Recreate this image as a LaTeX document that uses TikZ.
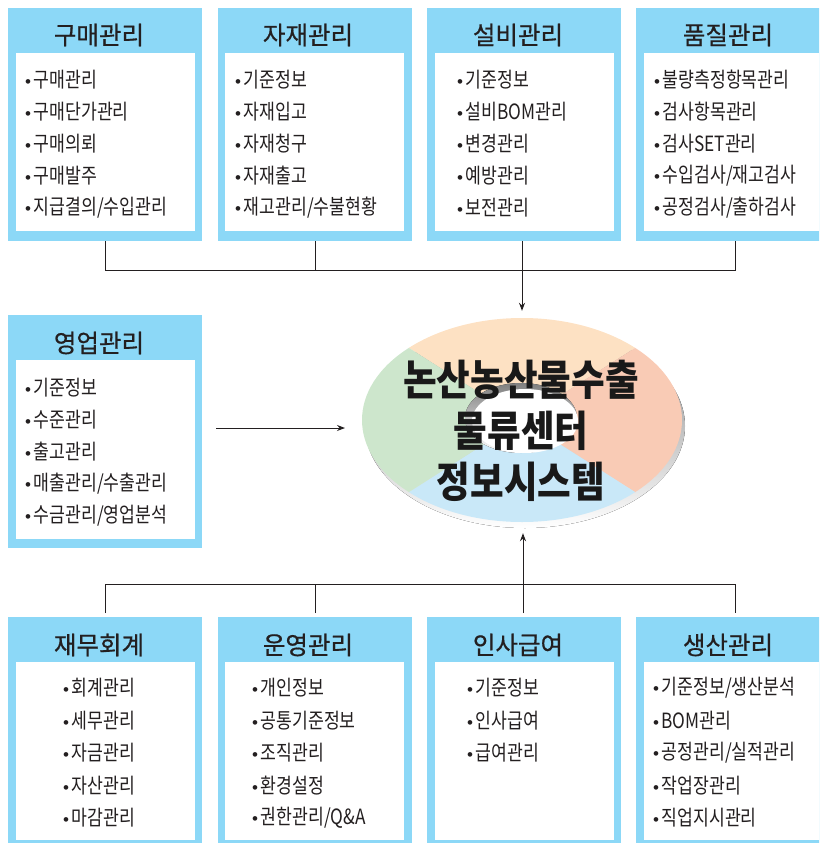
\documentclass[tikz,border=0pt]{standalone}
\usepackage{fontspec}
\setmainfont{Noto Sans CJK KR}
\newfontfamily\itemfont[FakeStretch=0.82]{Noto Sans CJK KR}
\newfontfamily\titlefont[FakeStretch=0.98,FakeBold=0.6]{Noto Sans CJK KR}
\newfontfamily\hubfont[FakeStretch=0.87]{Noto Sans CJK KR}
\newfontfamily\bulletfont{Liberation Sans}
\usetikzlibrary{arrows.meta,shapes.geometric}
\definecolor{boxblue}{HTML}{8CD8F7}
\definecolor{ink}{HTML}{231F20}
\definecolor{peach}{HTML}{FDE1C3}
\definecolor{salmon}{HTML}{F9CBB5}
\definecolor{skyb}{HTML}{C9E8F8}
\definecolor{mint}{HTML}{CDE6CC}
\definecolor{shade}{HTML}{E2E4E7}
\tikzset{
  outerbox/.style={fill=boxblue, draw=none, inner sep=0pt, outer sep=0pt},
  innerbox/.style={fill=white, draw=none, inner sep=0pt, outer sep=0pt},
  ttl/.style={font=\titlefont\fontsize{25}{25}\selectfont, text=ink, inner sep=0pt},
  itm/.style={font=\itemfont\fontsize{21}{21}\selectfont, text=ink, anchor=west, inner sep=0pt},
  hubtext/.style={font=\hubfont\bfseries\fontsize{42}{51}\selectfont, text=black!90, align=center, inner sep=0pt},
  conn/.style={draw=ink, line width=1pt},
  arr/.style={conn, -{Stealth[length=8pt,width=6pt]}}
}
\newcommand\bul{{\bulletfont\fontsize{17}{17}\selectfont •}\hspace{2.5pt}}
\begin{document}
\begin{tikzpicture}[x=1pt,y=-1pt]
\useasboundingbox (0,0) rectangle (819,843);
\clip (0,0) rectangle (819,843);
% ---------- top row boxes
\node[outerbox, minimum width=194pt, minimum height=233pt] (b1) at (105,124.5) {};
\node[innerbox, minimum width=179pt, minimum height=178pt] (b1w) at (105.5,142) {};
\node[outerbox, minimum width=194pt, minimum height=233pt] (b2) at (315,124.5) {};
\node[innerbox, minimum width=179pt, minimum height=178pt] (b2w) at (314.5,142) {};
\node[outerbox, minimum width=194pt, minimum height=233pt] (b3) at (524,124.5) {};
\node[innerbox, minimum width=179pt, minimum height=178pt] (b3w) at (524.5,142) {};
\node[outerbox, minimum width=199pt, minimum height=233pt] (b4) at (735.5,124.5) {};
\node[innerbox, minimum width=184pt, minimum height=178pt] (b4w) at (736,142) {};
\node[ttl] (b1t) at (99,35) {구매관리};
\node[ttl] (b2t) at (308,35) {자재관리};
\node[ttl] (b3t) at (518,35) {설비관리};
\node[ttl] (b4t) at (728,35) {품질관리};
\foreach \t [count=\i] in {구매관리,구매단가관리,구매의뢰,구매발주,지급결의/수입관리}
  \node[itm] (b1i\i) at (25,{80+32*(\i-1)}) {\bul\t};
\foreach \t [count=\i] in {기준정보,자재입고,자재청구,자재출고,재고관리/수불현황}
  \node[itm] (b2i\i) at (235,{80+32*(\i-1)}) {\bul\t};
\foreach \t [count=\i] in {기준정보,설비BOM관리,변경관리,예방관리,보전관리}
  \node[itm] (b3i\i) at (457,{80+32*(\i-1)}) {\bul\t};
\foreach \t [count=\i] in {불량측정항목관리,검사항목관리,검사SET관리,수입검사/재고검사,공정검사/출하검사}
  \node[itm] (b4i\i) at (654,{80+32*(\i-1)}) {\bul\t};
% ---------- middle left box
\node[outerbox, minimum width=194pt, minimum height=233pt] (b5) at (105,431.5) {};
\node[innerbox, minimum width=179pt, minimum height=179pt] (b5w) at (105.5,449.5) {};
\node[ttl] (b5t) at (99,343) {영업관리};
\foreach \t [count=\i] in {기준정보,수준관리,출고관리,매출관리/수출관리,수금관리/영업분석}
  \node[itm] (b5i\i) at (25,{388+32*(\i-1)}) {\bul\t};
% ---------- bottom row boxes
\node[outerbox, minimum width=194pt, minimum height=233pt] (c1) at (105,733.5) {};
\node[innerbox, minimum width=179pt, minimum height=178pt] (c1w) at (105.5,751) {};
\node[outerbox, minimum width=194pt, minimum height=233pt] (c2) at (315,733.5) {};
\node[innerbox, minimum width=179pt, minimum height=178pt] (c2w) at (314.5,751) {};
\node[outerbox, minimum width=194pt, minimum height=233pt] (c3) at (524,733.5) {};
\node[innerbox, minimum width=179pt, minimum height=178pt] (c3w) at (524.5,751) {};
\node[outerbox, minimum width=199pt, minimum height=233pt] (c4) at (735.5,733.5) {};
\node[innerbox, minimum width=184pt, minimum height=178pt] (c4w) at (736,751) {};
\node[ttl] (c1t) at (99,645) {재무회계};
\node[ttl] (c2t) at (308,645) {운영관리};
\node[ttl] (c3t) at (518,645) {인사급여};
\node[ttl] (c4t) at (728,645) {생산관리};
\foreach \t [count=\i] in {회계관리,세무관리,자금관리,자산관리,마감관리}
  \node[itm] (c1i\i) at (63,{688+32.4*(\i-1)}) {\bul\t};
\foreach \t [count=\i] in {개인정보,공통기준정보,조직관리,환경설정,권한관리/Q\&A}
  \node[itm] (c2i\i) at (252,{688+32.4*(\i-1)}) {\bul\t};
\foreach \t [count=\i] in {기준정보,인사급여,급여관리}
  \node[itm] (c3i\i) at (467,{688+32.4*(\i-1)}) {\bul\t};
\foreach \t [count=\i] in {기준정보/생산분석,BOM관리,공정관리/실적관리,작업장관리,직업지시관리}
  \node[itm] (c4i\i) at (653,{688+32.4*(\i-1)}) {\bul\t};
% ---------- central disc
\fill[shade] (525,426) ellipse[x radius=160, y radius=102];
\fill[peach] (522,420) -- ++(225:160 and 102) arc[start angle=225, end angle=315, x radius=160, y radius=102] -- cycle;
\fill[salmon] (522,420) -- ++(-45:160 and 102) arc[start angle=-45, end angle=45, x radius=160, y radius=102] -- cycle;
\fill[skyb] (522,420) -- ++(45:160 and 102) arc[start angle=45, end angle=135, x radius=160, y radius=102] -- cycle;
\fill[mint] (522,420) -- ++(135:160 and 102) arc[start angle=135, end angle=225, x radius=160, y radius=102] -- cycle;
\fill[shade] (521,418) ellipse[x radius=56, y radius=35];
\fill[white] (525,421) ellipse[x radius=53, y radius=32];
\node[ellipse, minimum width=320pt, minimum height=204pt, inner sep=0pt, draw=none] (sys) at (522,420) {};
\node[hubtext] (hub) at (521,431) {논산농산물수출\\물류센터\\정보시스템};
% ---------- connectors
\coordinate (topbus) at (522,270);
\draw[conn] (b1.south) -- (b1.south |- topbus) -- (b4.south |- topbus) -- (b4.south);
\draw[conn] (b2.south) -- (b2.south |- topbus);
\draw[conn] (b3.south -| topbus) -- (topbus);
\draw[arr, shorten >=7pt] (topbus) -- (topbus |- sys.north);
\coordinate (botbus) at (523,584);
\draw[conn] ([yshift=4pt]c1.north) -- (c1.north |- botbus) -- (c4.north |- botbus) -- ([yshift=4pt]c4.north);
\draw[conn] ([yshift=4pt]c2.north) -- (c2.north |- botbus);
\draw[arr, shorten >=11pt] ([yshift=4pt]c3.north -| botbus) -- (botbus |- sys.south);
\coordinate (sA) at (216,428);
\coordinate (sB) at (345,428);
\draw[arr] (sA) -- (sB);
\end{tikzpicture}
\end{document}
